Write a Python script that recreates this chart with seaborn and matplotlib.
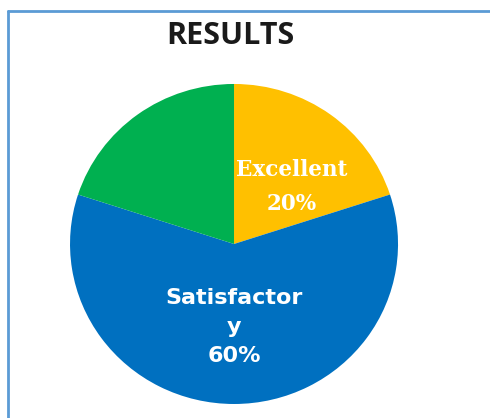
import numpy as np
import matplotlib.pyplot as plt
import seaborn as sns
from matplotlib.lines import Line2D

# chart data
categories = ["Excellent", "Satisfactory", "Good"]
shares = [20, 60, 20]
label_texts = ["Excellent\n20%", "Satisfactor\ny\n60%", ""]
slice_colors = ["#FFC000", "#0070C0", "#00B050"]
title = "RESULTS"

sns.set_theme(style="white")
plt.rcParams["font.family"] = ["DejaVu Sans"]

fig = plt.figure(figsize=(4.9, 4.18), dpi=100)
ax = fig.add_axes([0.1429, 0.0335, 0.6694, 0.7656])

palette = sns.color_palette(slice_colors)
wedges, texts = ax.pie(
    shares,
    labels=label_texts,
    colors=palette,
    startangle=90,
    counterclock=False,
    labeldistance=0.52,
    wedgeprops={"linewidth": 0},
    textprops={"color": "white", "ha": "center", "va": "center",
               "fontweight": "bold"},
)
ax.set_aspect("auto")
ax.set_xlim(-1, 1)
ax.set_ylim(-1, 1)

# Excel puts the small-slice label a bit off the mid-angle
w = wedges[0]
ang = np.deg2rad(w.theta1 + 0.375 * (w.theta2 - w.theta1))
texts[0].set_position((0.50 * np.cos(ang), 0.50 * np.sin(ang)))
texts[0].set_fontfamily("DejaVu Serif")
texts[0].set_fontsize(15.5)
texts[0].set_linespacing(1.7)
texts[1].set_fontsize(16)
texts[1].set_linespacing(1.56)

fig.text(0.471, 0.915, title, ha="center", va="center",
         fontsize=22, fontweight="bold", family="Open Sans", color="#1a1a1a")

# border of the chart area
border = "#5B9BD5"
fig.add_artist(Line2D([0.017, 0.017], [0, 0.974], color=border, lw=2,
                      transform=fig.transFigure))
fig.add_artist(Line2D([0.017, 1], [0.974, 0.974], color=border, lw=2,
                      transform=fig.transFigure))

fig.savefig("out.png", dpi=100)
